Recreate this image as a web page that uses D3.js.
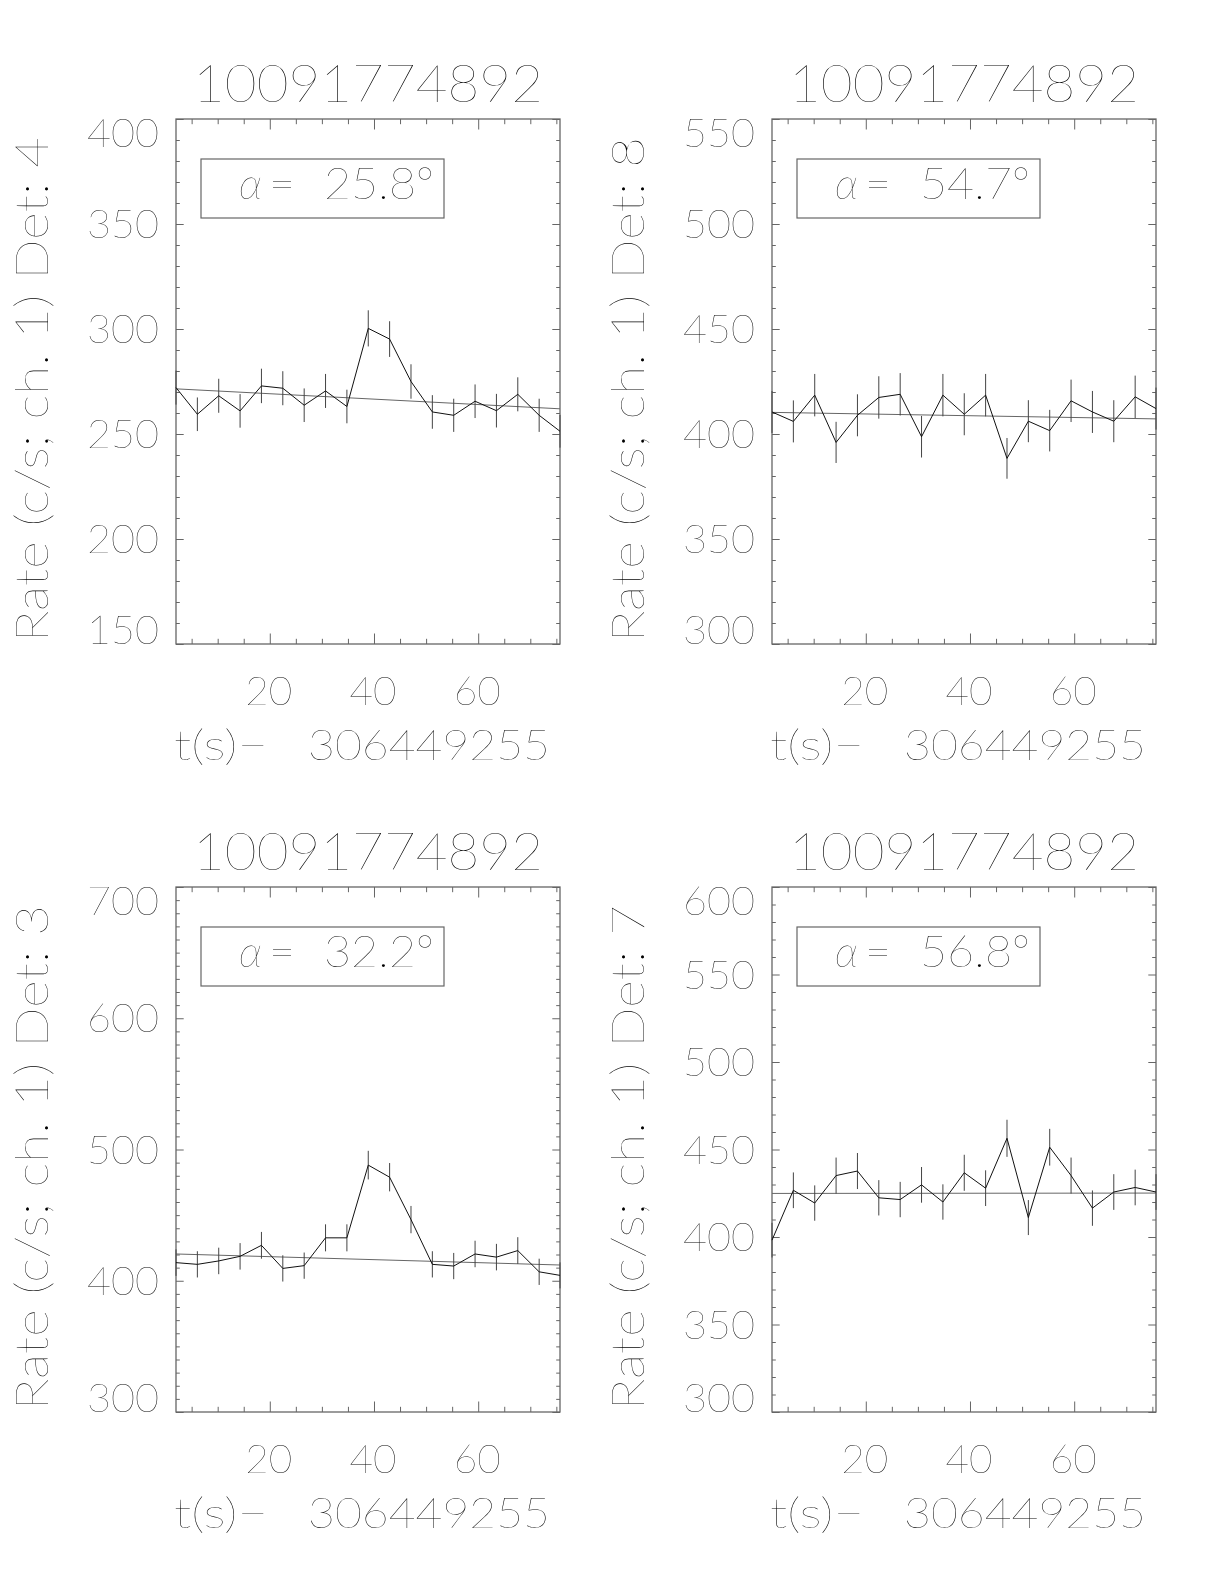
<!DOCTYPE html>
<html>
<head>
<meta charset="utf-8">
<script src="https://cdn.jsdelivr.net/npm/d3@7"></script>
<style>
  html, body { margin: 0; padding: 0; background: #fff; }
  svg { filter: grayscale(1); }
  svg text { font-family: Lato, "DejaVu Sans", sans-serif; font-weight: 200; fill: #000; }
</style>
</head>
<body>
<svg id="chart" width="1224" height="1584"></svg>
<script>
// ---- data ----
const times = [2.0, 6.1, 10.2, 14.3, 18.4, 22.5, 26.6, 30.7, 34.8, 38.9, 43.0, 47.1, 51.2, 55.3, 59.4, 63.5, 67.6, 71.7, 75.7];

const titles = ["10091774892", "10091774892", "10091774892", "10091774892"];
const detLabels = ["4", "8", "3", "7"];
const alphaLabels = ["25.8", "54.7", "32.2", "56.8"];
const xTitlePrefix = "t(s)\u2212";
const xTitleOffset = "306449255";

const rateDet4 = [272.1, 259.4, 268.2, 261.0, 272.9, 271.8, 263.7, 270.5, 263.1, 300.3, 295.2, 275.0, 260.5, 258.9, 265.6, 261.1, 268.9, 258.9, 251.3];
const errDet4  = [8.1, 8.0, 8.1, 8.0, 8.2, 8.1, 8.0, 8.1, 8.0, 8.6, 8.5, 8.2, 8.0, 7.9, 8.0, 8.0, 8.1, 7.9, 7.8];
const fitDet4  = [271.5, 262.0];

const rateDet8 = [410.5, 406.0, 418.5, 396.0, 408.9, 417.4, 418.9, 398.7, 418.5, 409.4, 418.5, 388.4, 406.1, 401.6, 415.8, 410.5, 406.1, 417.7, 412.1];
const errDet8  = [10.0, 10.0, 10.1, 9.8, 10.0, 10.1, 10.1, 9.9, 10.1, 10.0, 10.1, 9.7, 10.0, 9.9, 10.1, 10.0, 10.0, 10.1, 10.0];
const fitDet8  = [410.3, 407.2];

const rateDet3 = [413.8, 412.5, 415.1, 418.6, 427.0, 409.4, 411.5, 432.7, 432.7, 488.1, 478.9, 446.6, 412.5, 411.2, 420.4, 418.0, 423.0, 406.8, 404.1];
const errDet3  = [10.1, 10.0, 10.1, 10.1, 10.2, 10.0, 10.0, 10.3, 10.3, 10.9, 10.8, 10.4, 10.0, 10.0, 10.1, 10.1, 10.2, 10.0, 9.9];
const fitDet3  = [420.4, 412.0];

const rateDet7 = [398.2, 426.7, 419.4, 435.1, 437.7, 422.4, 421.4, 429.8, 420.0, 436.7, 427.9, 456.4, 411.1, 451.3, 435.1, 416.5, 425.7, 428.3, 425.7];
const errDet7  = [9.9, 10.2, 10.1, 10.3, 10.3, 10.1, 10.1, 10.2, 10.1, 10.3, 10.2, 10.6, 10.0, 10.5, 10.3, 10.1, 10.2, 10.2, 10.2];
const fitDet7  = [424.9, 425.1];

const yDomains = [[150, 400], [300, 550], [300, 700], [300, 600]];
const yTickLabels = [
  [150, 200, 250, 300, 350, 400],
  [300, 350, 400, 450, 500, 550],
  [300, 400, 500, 600, 700],
  [300, 350, 400, 450, 500, 550, 600]
];
const xTickLabels = [20, 40, 60];
const xMinorTicks = [5, 10, 15, 25, 30, 35, 45, 50, 55, 65, 70, 75];

const rates = [rateDet4, rateDet8, rateDet3, rateDet7];
const errs = [errDet4, errDet8, errDet3, errDet7];
const fits = [fitDet4, fitDet8, fitDet3, fitDet7];

// ---- layout ----
const plotW = 384, plotH = 525;
const lefts = [176, 772, 176, 772];
const tops = [119, 119, 887, 887];

const svg = d3.select("#chart");
svg.append("rect").attr("width", 1224).attr("height", 1584).attr("fill", "#fff");

const axisColor = "#666";

for (let p = 0; p < 4; p++) {
  const L = lefts[p], T = tops[p];
  const x = d3.scaleLinear().domain([times[0], times[times.length - 1]]).range([L, L + plotW]);
  const y = d3.scaleLinear().domain(yDomains[p]).range([T + plotH, T]);
  const g = svg.append("g");

  const yMinor = d3.range(yDomains[p][0], yDomains[p][1] + 0.001, 10).filter(v => !yTickLabels[p].includes(v));

  // axes with inward ticks on all four sides
  const mk = (axisFn, scale, vals, size, tr) => {
    const a = g.append("g").attr("transform", tr)
      .call(axisFn(scale).tickValues(vals).tickSizeInner(-size).tickSizeOuter(0).tickFormat(""));
    a.select(".domain").remove();
    a.selectAll("line").attr("stroke", axisColor).attr("stroke-width", 1);
  };
  mk(d3.axisBottom, x, xTickLabels, 10.5, `translate(0,${T + plotH})`);
  mk(d3.axisBottom, x, xMinorTicks, 5.2, `translate(0,${T + plotH})`);
  mk(d3.axisTop, x, xTickLabels, 10.5, `translate(0,${T})`);
  mk(d3.axisTop, x, xMinorTicks, 5.2, `translate(0,${T})`);
  mk(d3.axisLeft, y, yTickLabels[p], 7.7, `translate(${L},0)`);
  mk(d3.axisLeft, y, yMinor, 3.8, `translate(${L},0)`);
  mk(d3.axisRight, y, yTickLabels[p], 7.7, `translate(${L + plotW},0)`);
  mk(d3.axisRight, y, yMinor, 3.8, `translate(${L + plotW},0)`);

  // frame
  g.append("rect").attr("x", L).attr("y", T).attr("width", plotW).attr("height", plotH)
    .attr("fill", "none").attr("stroke", axisColor).attr("stroke-width", 1.3);

  // fit line
  g.append("line")
    .attr("x1", x(times[0])).attr("x2", x(times[times.length - 1]))
    .attr("y1", y(fits[p][0])).attr("y2", y(fits[p][1]))
    .attr("stroke", "#666").attr("stroke-width", 1);

  // error bars
  g.selectAll(".err").data(times).enter().append("line")
    .attr("x1", d => x(d)).attr("x2", d => x(d))
    .attr("y1", (d, i) => y(rates[p][i] - errs[p][i]))
    .attr("y2", (d, i) => y(rates[p][i] + errs[p][i]))
    .attr("stroke", "#444").attr("stroke-width", 1);

  // data line
  const line = d3.line().x((d, i) => x(times[i])).y(d => y(d));
  g.append("path").datum(rates[p]).attr("d", line)
    .attr("fill", "none").attr("stroke", "#111").attr("stroke-width", 1);

  // y tick labels (end labels kept inside plot height)
  yTickLabels[p].forEach(v => {
    let cy = y(v);
    cy = Math.max(T + 14, Math.min(T + plotH - 14, cy));
    g.append("text").attr("x", L - 17).attr("y", cy + 14)
      .attr("text-anchor", "end").attr("font-size", 40)
      .attr("textLength", 72).attr("lengthAdjust", "spacingAndGlyphs").text(v);
  });

  // x tick labels
  xTickLabels.forEach(v => {
    g.append("text").attr("x", x(v) - 1).attr("y", T + plotH + 61)
      .attr("text-anchor", "middle").attr("font-size", 40)
      .attr("textLength", 47).attr("lengthAdjust", "spacingAndGlyphs").text(v);
  });

  // x title (prefix and offset)
  g.append("text").attr("x", L - 2).attr("y", T + plotH + 116)
    .attr("font-size", 42)
    .attr("textLength", 94).attr("lengthAdjust", "spacingAndGlyphs")
    .text(xTitlePrefix);
  g.append("text").attr("x", L + 132).attr("y", T + plotH + 116)
    .attr("font-size", 42)
    .attr("textLength", 242).attr("lengthAdjust", "spacingAndGlyphs")
    .text(xTitleOffset);

  // y title
  g.append("text").attr("transform", `translate(${L - 128},${T + plotH / 2 + 8}) rotate(-90)`)
    .attr("text-anchor", "middle").attr("font-size", 46)
    .attr("textLength", 505).attr("lengthAdjust", "spacingAndGlyphs")
    .text("Rate (c/s; ch. 1) Det: " + detLabels[p]);

  // title
  g.append("text").attr("x", L + plotW / 2).attr("y", T - 17)
    .attr("text-anchor", "middle").attr("font-size", 52)
    .attr("textLength", 350).attr("lengthAdjust", "spacingAndGlyphs")
    .text(titles[p]);

  // alpha box
  g.append("rect").attr("x", L + 25).attr("y", T + 40).attr("width", 243).attr("height", 59)
    .attr("fill", "none").attr("stroke", axisColor).attr("stroke-width", 1.2);
  const by = T + 80;
  g.append("text").attr("x", L + 63).attr("y", by).attr("font-size", 43)
    .attr("font-style", "italic").text("\u03b1");
  g.append("text").attr("x", L + 93).attr("y", by).attr("font-size", 43)
    .attr("textLength", 26).attr("lengthAdjust", "spacingAndGlyphs").text("=");
  g.append("text").attr("x", L + 148).attr("y", by).attr("font-size", 43)
    .attr("textLength", 92).attr("lengthAdjust", "spacingAndGlyphs").text(alphaLabels[p]);
  g.append("text").attr("x", L + 240).attr("y", by).attr("font-size", 43).text("\u00b0");
}
</script>
</body>
</html>
